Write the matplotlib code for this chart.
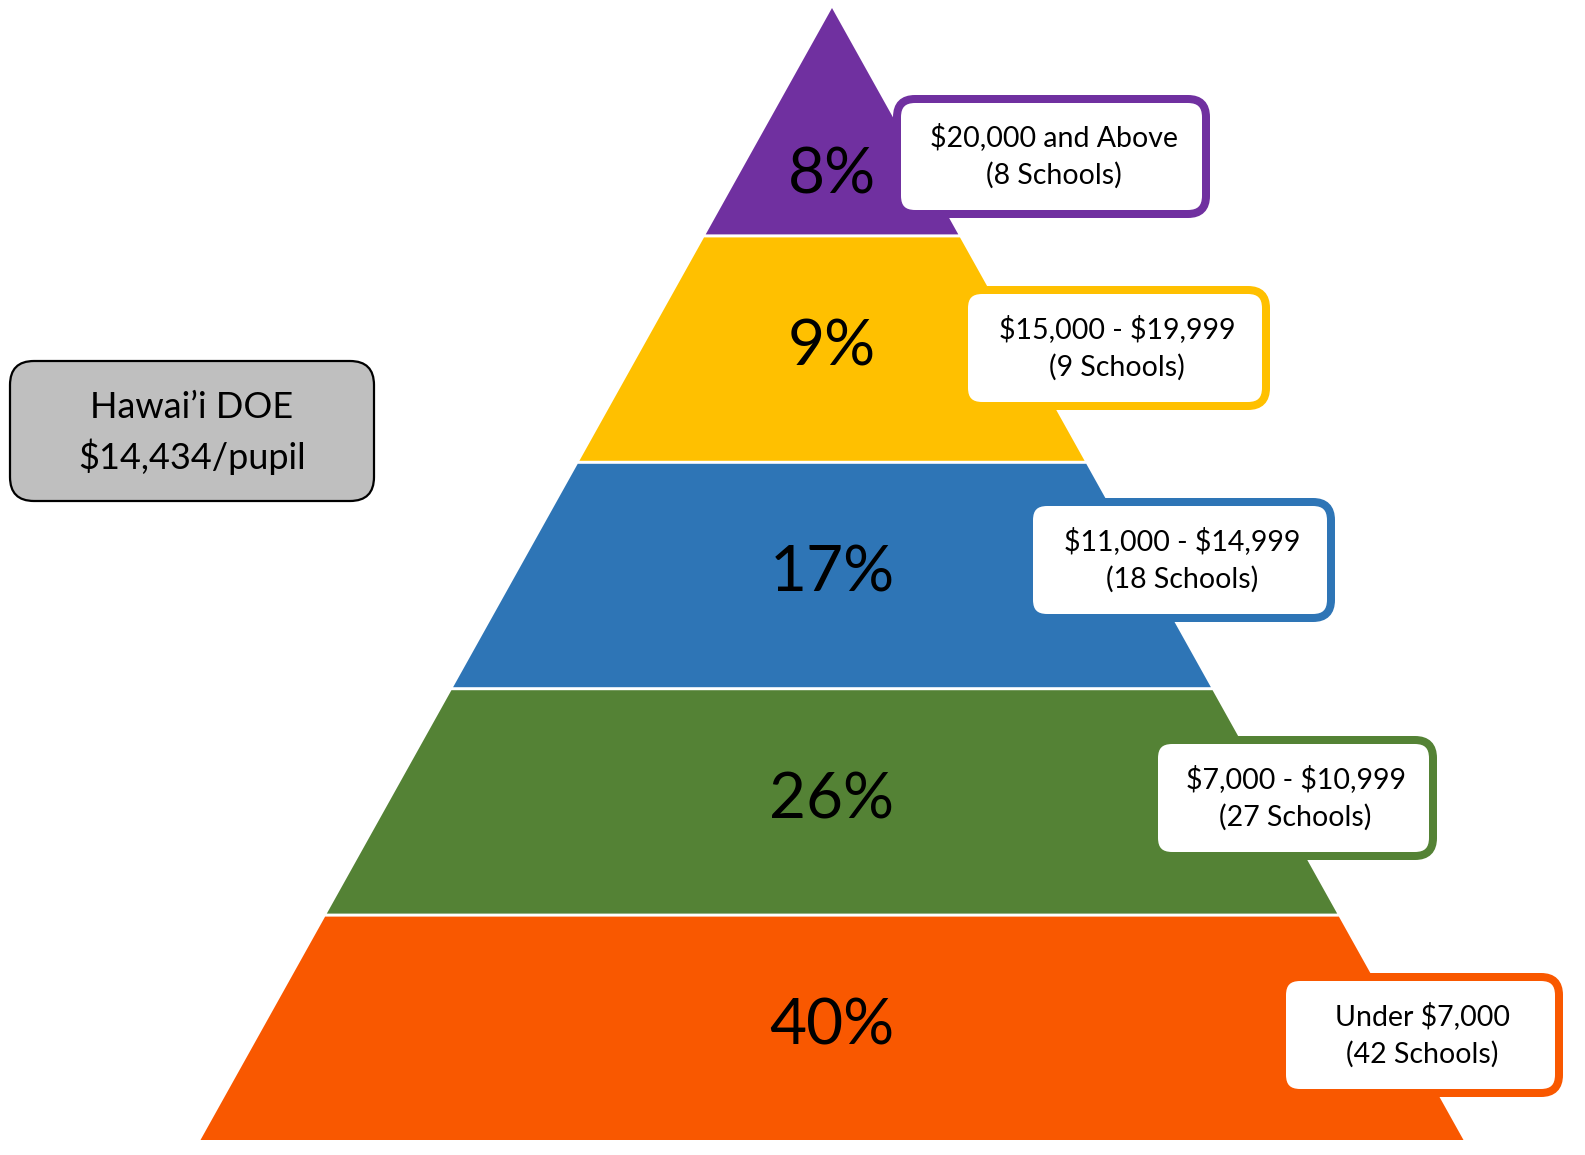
import matplotlib.pyplot as plt
from matplotlib.patches import Polygon, FancyBboxPatch

plt.rcParams['font.family'] = ['Lato', 'DejaVu Sans']
plt.rcParams['text.parse_math'] = False

# tiers, bottom to top
shares = [40, 26, 17, 9, 8]
ranges = ['Under $7,000', '$7,000 - $10,999', '$11,000 - $14,999',
          '$15,000 - $19,999', '$20,000 and Above']
schools = [42, 27, 18, 9, 8]
colors = ['#F95800', '#548235', '#2E75B6', '#FFC000', '#7030A0']
doe_label = 'Hawai\u2019i DOE'
doe_value = 14434

W, H = 1585, 1155
fig = plt.figure(figsize=(W / 100, H / 100), dpi=100)
ax = fig.add_axes([0, 0, 1, 1])
ax.set_xlim(0, W)
ax.set_ylim(H, 0)
ax.axis('off')

apex_x, apex_y = 832, 8
base_y, half_base = 1140, 631.5
n = len(shares)
band_h = (base_y - apex_y) / n
gap = 3


def half_width(y):
    return half_base * (y - apex_y) / (base_y - apex_y)


for i in range(n):
    y_bot = base_y - i * band_h
    y_top = y_bot - band_h + (gap if i < n - 1 else 0)
    wb, wt = half_width(y_bot), half_width(y_top)
    pts = [(apex_x - wb, y_bot), (apex_x + wb, y_bot),
           (apex_x + wt, y_top), (apex_x - wt, y_top)]
    ax.add_patch(Polygon(pts, closed=True, facecolor=colors[i],
                         edgecolor='none', zorder=1))
    yc = y_bot - band_h * 0.5
    if i == n - 1:
        yc = y_bot - band_h * 0.26
    ax.text(apex_x, yc, '{}%'.format(shares[i]), ha='center', va='center',
            fontsize=46, color='black', zorder=3)

# label boxes (outer left, top, right, bottom in pixels)
box_pos = [(1278, 973, 1563, 1097), (1150, 736, 1437, 860),
           (1025, 498, 1335, 622), (960, 286, 1270, 410),
           (893, 95, 1210, 218)]
bw = 8
for i in range(n):
    x0, y0, x1, y1 = box_pos[i]
    ax.add_patch(FancyBboxPatch((x0 + bw / 2, y0 + bw / 2),
                                x1 - x0 - bw, y1 - y0 - bw,
                                boxstyle='round,pad=0,rounding_size=18',
                                facecolor='white', edgecolor=colors[i],
                                linewidth=bw * 0.72, zorder=4))
    cx, cy = (x0 + x1) / 2 + 2, (y0 + y1) / 2
    ax.text(cx, cy - 19, ranges[i], ha='center', va='center',
            fontsize=20.5, zorder=5)
    ax.text(cx, cy + 19, '({} Schools)'.format(schools[i]), ha='center',
            va='center', fontsize=20.5, zorder=5)

# DOE average box
ax.add_patch(FancyBboxPatch((10, 361), 364, 140,
                            boxstyle='round,pad=0,rounding_size=24',
                            facecolor='#BFBFBF', edgecolor='black',
                            linewidth=1.6, zorder=4))
ax.text(192, 407, doe_label, ha='center', va='center', fontsize=26, zorder=5)
ax.text(192, 457, '${:,}/pupil'.format(doe_value), ha='center',
        va='center', fontsize=26, zorder=5)

fig.savefig('out.png', dpi=100)
